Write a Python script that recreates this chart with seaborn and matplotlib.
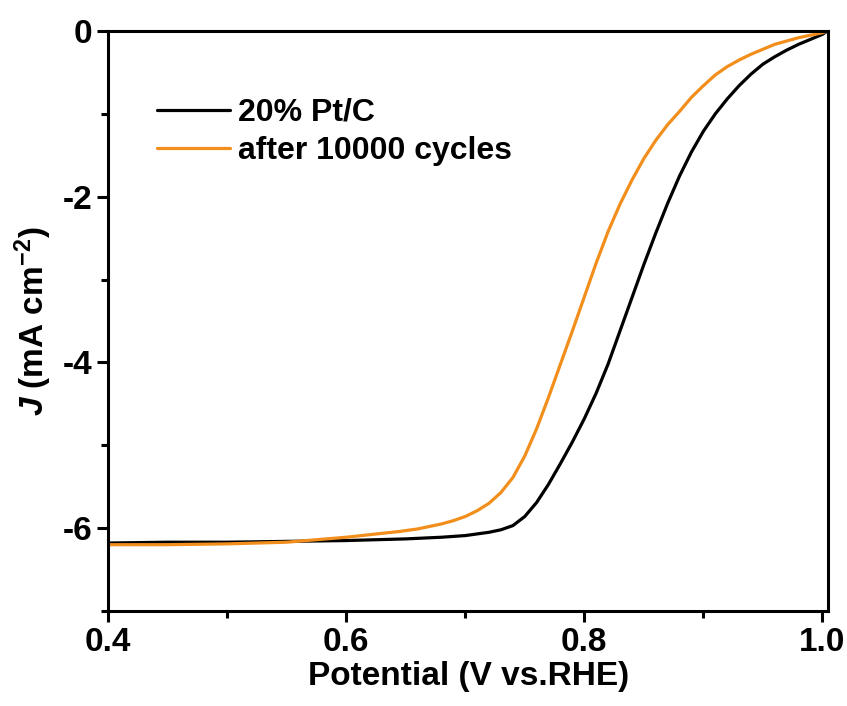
import numpy as np
import pandas as pd
import matplotlib
matplotlib.use("Agg")
import matplotlib.pyplot as plt
import seaborn as sns
from matplotlib.ticker import MultipleLocator

# LSV curves (potential in V vs. RHE, J in mA cm-2)
potential_ptc = [0.40, 0.45, 0.50, 0.55, 0.60, 0.65, 0.68, 0.70, 0.72, 0.73,
                 0.74, 0.75, 0.76, 0.77, 0.78, 0.79, 0.80, 0.81, 0.82, 0.83,
                 0.84, 0.85, 0.86, 0.87, 0.88, 0.89, 0.90, 0.91, 0.92, 0.93,
                 0.94, 0.95, 0.96, 0.97, 0.98, 0.99, 1.00, 1.004]
j_ptc = [-6.18, -6.17, -6.17, -6.16, -6.15, -6.13, -6.11, -6.09, -6.05, -6.02,
         -5.97, -5.86, -5.69, -5.47, -5.22, -4.96, -4.68, -4.37, -4.02, -3.62,
         -3.22, -2.82, -2.44, -2.08, -1.75, -1.46, -1.21, -1.00, -0.82, -0.66,
         -0.52, -0.40, -0.31, -0.23, -0.16, -0.10, -0.04, 0.0]

potential_cyc = [0.40, 0.45, 0.50, 0.55, 0.60, 0.645, 0.66, 0.68, 0.69, 0.70,
                 0.71, 0.72, 0.73, 0.74, 0.75, 0.76, 0.77, 0.78, 0.79, 0.80,
                 0.81, 0.82, 0.83, 0.84, 0.85, 0.86, 0.87, 0.88, 0.89, 0.90,
                 0.91, 0.92, 0.93, 0.94, 0.95, 0.96, 0.97, 0.98, 0.99, 1.00, 1.004]
j_cyc = [-6.20, -6.20, -6.19, -6.17, -6.11, -6.04, -6.01, -5.95, -5.91, -5.86,
         -5.79, -5.70, -5.57, -5.39, -5.13, -4.80, -4.42, -4.02, -3.62, -3.21,
         -2.80, -2.42, -2.09, -1.80, -1.54, -1.32, -1.13, -0.97, -0.80, -0.66,
         -0.53, -0.43, -0.35, -0.28, -0.22, -0.16, -0.12, -0.08, -0.05, -0.02, 0.0]

labels = ["20% Pt/C", "after 10000 cycles"]
colors = ["black", "#F28E1C"]

df = pd.concat([
    pd.DataFrame({"E": potential_ptc, "J": j_ptc, "sample": labels[0]}),
    pd.DataFrame({"E": potential_cyc, "J": j_cyc, "sample": labels[1]}),
])

sns.set_style("ticks")
plt.rcParams["font.family"] = ["Liberation Sans", "DejaVu Sans"]
plt.rcParams["font.weight"] = "bold"
plt.rcParams["text.color"] = "black"
plt.rcParams["axes.labelcolor"] = "black"
plt.rcParams["xtick.color"] = "black"
plt.rcParams["ytick.color"] = "black"
plt.rcParams["axes.unicode_minus"] = False
plt.rcParams["mathtext.fontset"] = "custom"
plt.rcParams["mathtext.rm"] = "Liberation Sans:bold"
plt.rcParams["mathtext.it"] = "Liberation Sans:italic:bold"
plt.rcParams["mathtext.bf"] = "Liberation Sans:bold"

fig = plt.figure(figsize=(8.47, 7.06), dpi=100)
ax = fig.add_axes([0.1275, 0.1346, 0.8505, 0.8214])

sns.lineplot(data=df, x="E", y="J", hue="sample", palette=colors,
             sort=False, linewidth=2.3, ax=ax)

ax.set_xlim(0.4, 1.005)
ax.set_ylim(-7, 0)
ax.xaxis.set_major_locator(MultipleLocator(0.2))
ax.xaxis.set_minor_locator(MultipleLocator(0.1))
ax.yaxis.set_major_locator(MultipleLocator(2))
ax.yaxis.set_minor_locator(MultipleLocator(1))
ax.set_xticklabels([f"{v:.1f}" for v in ax.get_xticks()])
ax.set_yticklabels([f"{int(v)}" for v in ax.get_yticks()])

for s in ax.spines.values():
    s.set_visible(True)
    s.set_linewidth(2.2)
    s.set_color("black")
ax.tick_params(which="major", direction="out", length=8, width=2.2,
               labelsize=24, color="black", labelcolor="black")
ax.tick_params(which="minor", direction="out", length=5, width=2.2,
               color="black")

ax.set_xlabel("Potential (V vs.RHE)", fontsize=24, fontweight="bold",
              labelpad=2, color="black")
ax.set_ylabel("$J$ (mA cm$^{-2}$)", fontsize=24, fontweight="bold",
              labelpad=6, color="black")

leg = ax.legend(loc="upper left", bbox_to_anchor=(0.068, 0.885),
                frameon=False, fontsize=23, handlelength=2.3,
                handletextpad=0.25, labelspacing=0.25,
                borderpad=0, borderaxespad=0)
for text in leg.get_texts():
    text.set_color("black")
for line in leg.get_lines():
    line.set_linewidth(2.3)

fig.savefig("out.png", dpi=100)
